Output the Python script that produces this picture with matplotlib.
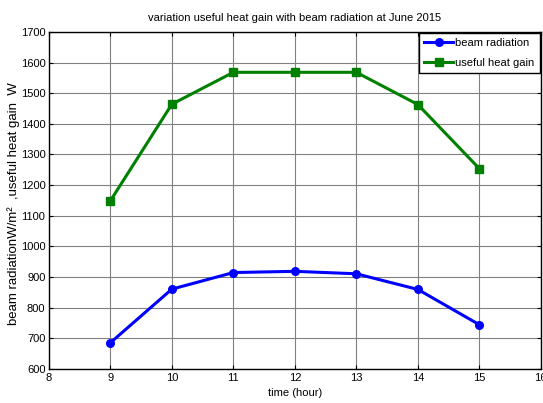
import matplotlib
matplotlib.use("Agg")
import matplotlib.pyplot as plt

plt.rcParams['font.family'] = ['Liberation Sans', 'DejaVu Sans']

# data
hours = [9, 10, 11, 12, 13, 14, 15]
beam_radiation = [686, 861, 915, 919, 911, 860, 745]
useful_heat_gain = [1149, 1464, 1568, 1568, 1568, 1463, 1254]

fig = plt.figure(figsize=(5.43, 4.03), dpi=100)
ax = fig.add_axes([0.090, 0.084, 0.906, 0.837])

ax.plot(hours, beam_radiation, color='#0000ff', lw=2.2, marker='o', ms=5.5,
        label='beam radiation')
ax.plot(hours, useful_heat_gain, color='#008000', lw=2.2, marker='s', ms=5.5,
        label='useful heat gain')

ax.set_xlim(8, 16)
ax.set_ylim(600, 1700)
ax.set_xticks(range(8, 17))
ax.set_yticks(range(600, 1701, 100))
ax.grid(True, color='#808080', lw=0.8)
ax.tick_params(direction='in', top=True, right=True, labelsize=8, length=3, pad=2.5)
for s in ax.spines.values():
    s.set_linewidth(1.0)

ax.set_title('variation useful heat gain with beam radiation at June 2015',
             fontsize=8, pad=8)
ax.set_xlabel('time (hour)', fontsize=8, labelpad=4)
ax.set_ylabel('beam radiationW/m²  ,useful heat gain  W', fontsize=9.5)
ax.yaxis.set_label_coords(-0.058, 0.49)

leg = ax.legend(loc='upper right', fontsize=8, fancybox=False, framealpha=1,
                edgecolor='black', borderaxespad=0.1, handlelength=2.6,
                handletextpad=0.2, borderpad=0.45, labelspacing=0.9)
leg.get_frame().set_linewidth(1.0)

fig.savefig('out.png', dpi=100)
